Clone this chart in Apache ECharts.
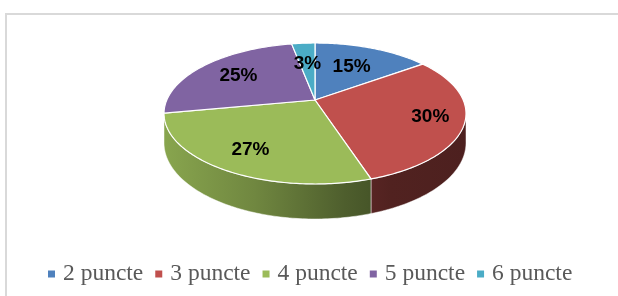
<!DOCTYPE html>
<html>
<head>
<meta charset="utf-8">
<script src="https://cdn.jsdelivr.net/npm/echarts@6/dist/echarts.min.js"></script>
<style>
html,body{margin:0;padding:0;background:#fff;overflow:hidden;}
#chart{width:618px;height:296px;}
</style>
</head>
<body>
<div id="chart"></div>
<script>
// ---- data ----
var categories = ['2 puncte', '3 puncte', '4 puncte', '5 puncte', '6 puncte'];
var values = [15, 30, 27, 25, 3];

// ---- styles / layout (not data) ----
var colors = ['#4F81BD', '#C0504D', '#9BBB59', '#8064A2', '#4BACC6'];
var labelRadius = [0.6, 0.78, 0.75, 0.67, 0.6];
var P = { cx: 315, cy: 100, B: 148.2, A: 67.9, k: 0.1915, T: 28.3 };

var total = values.reduce(function (a, b) { return a + b; }, 0);
var starts = [];
(function () { var acc = 0; values.forEach(function (v) { starts.push(acc); acc += v; }); })();

function proj(r, th, dz) {
  var u = r * Math.sin(th), v = -r * Math.cos(th);
  var w = 1 - P.k * v;
  return [P.cx + P.B * u / w, P.cy + (P.A * v + dz * P.T) / w];
}
function arcPts(a, b, dz) {
  var pts = [], n = Math.max(2, Math.ceil(Math.abs(b - a) / (Math.PI / 180)));
  for (var i = 0; i <= n; i++) pts.push(proj(1, a + (b - a) * i / n, dz));
  return pts;
}
function shade(hex, f) {
  var r = parseInt(hex.substr(1, 2), 16), g = parseInt(hex.substr(3, 2), 16), b = parseInt(hex.substr(5, 2), 16);
  return 'rgb(' + Math.round(r * f) + ',' + Math.round(g * f) + ',' + Math.round(b * f) + ')';
}

var frontA = Math.acos(-P.k), frontB = 2 * Math.PI - Math.acos(-P.k);

function makeRender(i) {
  return function (params, api) {
    var a0 = starts[i] / total * 2 * Math.PI;
    var a1 = (starts[i] + values[i]) / total * 2 * Math.PI;
    var children = [];
    // side wall (front-facing part only)
    var wa = Math.max(a0, frontA), wb = Math.min(a1, frontB);
    if (wb > wa) {
      var top = arcPts(wa, wb, 0);
      var bot = arcPts(wa, wb, 1).reverse();
      var left = P.cx - P.B / Math.sqrt(1 - P.k * P.k);
      var right = P.cx + P.B / Math.sqrt(1 - P.k * P.k);
      children.push({
        type: 'polygon',
        shape: { points: top.concat(bot) },
        style: {
          fill: new echarts.graphic.LinearGradient(left, 0, right, 0, [
            { offset: 0, color: shade(colors[i], 0.88) },
            { offset: 0.3, color: shade(colors[i], 0.72) },
            { offset: 0.6, color: shade(colors[i], 0.5) },
            { offset: 0.75, color: shade(colors[i], 0.42) },
            { offset: 1, color: shade(colors[i], 0.4) }
          ], true),
          stroke: 'rgba(255,255,255,0.6)', lineWidth: 0.8
        }
      });
    }
    // top face
    var pts = [proj(0, 0, 0)].concat(arcPts(a0, a1, 0));
    children.push({
      type: 'polygon',
      shape: { points: pts },
      style: { fill: colors[i], stroke: '#ffffff', lineWidth: 1.2, lineJoin: 'round' }
    });
    // label
    var mid = (a0 + a1) / 2;
    var lp = proj(labelRadius[i], mid, 0);
    children.push({
      type: 'text',
      x: lp[0], y: lp[1],
      style: {
        text: Math.round(values[i] / total * 100) + '%',
        fill: '#000', font: 'bold 19px "Liberation Sans", Arial, sans-serif',
        align: 'center', verticalAlign: 'middle'
      }
    });
    return { type: 'group', children: children };
  };
}

var series = categories.map(function (name, i) {
  return {
    type: 'custom', name: name, coordinateSystem: 'none',
    itemStyle: { color: colors[i] },
    data: [values[i]],
    renderItem: makeRender(i),
    silent: true, animation: false
  };
});

var chart = echarts.init(document.getElementById('chart'), null, { renderer: 'canvas' });
chart.setOption({
  animation: false,
  graphic: [{
    type: 'polyline',
    shape: { points: [[6, 400], [6, 14], [700, 14]] },
    style: { fill: null, stroke: '#d9d9d9', lineWidth: 2 },
    z: -10, silent: true
  }],
  legend: {
    data: categories,
    left: 43, top: 257,
    icon: 'rect', itemWidth: 7, itemHeight: 7, itemGap: 12,
    textStyle: { fontFamily: '"Liberation Serif", "Times New Roman", serif', fontSize: 23.5, color: '#595959', padding: [0, 0, 0, 3] }
  },
  series: series
});
</script>
</body>
</html>
